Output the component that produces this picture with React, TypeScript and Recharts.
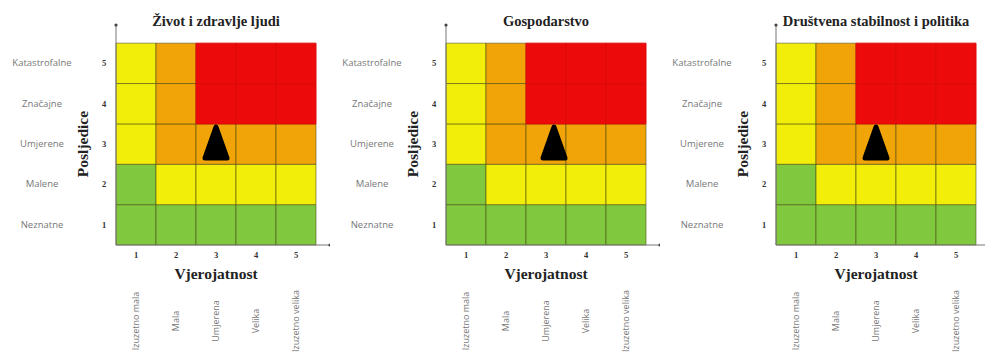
import {
  ScatterChart,
  Scatter,
  XAxis,
  YAxis,
  ReferenceArea,
  ReferenceDot,
} from 'recharts';

const PANEL_TITLES = ['Život i zdravlje ljudi', 'Gospodarstvo', 'Društvena stabilnost i politika'];
const LIKELIHOOD_TICKS = [1, 2, 3, 4, 5];
const LIKELIHOOD_LABELS = ['Izuzetno mala', 'Mala', 'Umjerena', 'Velika', 'Izuzetno velika'];
const CONSEQUENCE_TICKS = [1, 2, 3, 4, 5];
const CONSEQUENCE_LABELS = ['Neznatne', 'Malene', 'Umjerene', 'Značajne', 'Katastrofalne'];

// risk level per cell, rows = consequence 1..5, cols = likelihood 1..5
const RISK_GRID = [
  ['G', 'G', 'G', 'G', 'G'],
  ['G', 'Y', 'Y', 'Y', 'Y'],
  ['Y', 'O', 'O', 'O', 'O'],
  ['Y', 'O', 'R', 'R', 'R'],
  ['Y', 'O', 'R', 'R', 'R'],
];

// assessed risk position (likelihood, consequence) per panel
const RISK_MARKERS = [
  [{ x: 3, y: 3 }],
  [{ x: 3.2, y: 3 }],
  [{ x: 3, y: 3 }],
];

const LEVEL_COLORS: Record<string, string> = {
  G: '#80c83e', // green
  Y: '#f2ee0a', // yellow
  O: '#f0a408', // orange
  R: '#ec0a0a', // red
};

const PANEL_LEFT = [0, 330, 660];
const PANEL_WIDTH = [330, 330, 325];
const CHART_HEIGHT = 356;
const Y_AXIS_W = 116;
const X_AXIS_H = 111;
const TOP = 25;
// axes run a little past the grid, ending in a small arrow dot
const X_MAX = 5.85;
const Y_MAX = 5.95;

const serif = '"Liberation Serif", "Times New Roman", serif';
const sans = '"Open Sans", "Noto Sans", sans-serif';

const cells = RISK_GRID.flatMap((row, r) =>
  row.map((level, c) => ({ x: c + 1, y: r + 1, level })),
);

function YTick({ y, payload }: any) {
  const v = payload.value as number;
  return (
    <g>
      <text x={42} y={y} dy={3} textAnchor="middle" fontFamily={sans} fontSize={9.5} fill="#777">
        {CONSEQUENCE_LABELS[v - 1]}
      </text>
      <text x={104} y={y} dy={3} textAnchor="middle" fontFamily={serif} fontWeight="bold" fontSize={8.5} fill="#333">
        {v}
      </text>
    </g>
  );
}

function XTick({ x, payload }: any) {
  const v = payload.value as number;
  return (
    <g>
      <text x={x} y={258} textAnchor="middle" fontFamily={serif} fontWeight="bold" fontSize={8.5} fill="#333">
        {v}
      </text>
      <text
        x={x}
        y={321}
        dy={3}
        textAnchor="middle"
        transform={`rotate(-90 ${x} 321)`}
        fontFamily={sans}
        fontSize={9}
        fill="#777"
      >
        {LIKELIHOOD_LABELS[v - 1]}
      </text>
    </g>
  );
}

function Marker({ cx, cy }: any) {
  return (
    <path
      d={`M${cx},${cy - 17} L${cx + 11},${cy + 14} L${cx - 11},${cy + 14} Z`}
      fill="#000"
      stroke="#000"
      strokeWidth={5}
      strokeLinejoin="round"
    />
  );
}

function RiskPanel({ index }: { index: number }) {
  const width = PANEL_WIDTH[index];
  return (
    <div style={{ position: 'absolute', left: PANEL_LEFT[index], top: 0, width, height: CHART_HEIGHT }}>
      <div
        style={{
          position: 'absolute',
          left: Y_AXIS_W - 20,
          width: 240,
          top: 13,
          textAlign: 'center',
          fontFamily: serif,
          fontWeight: 'bold',
          fontSize: 14.5,
          lineHeight: '16px',
          color: '#222',
          whiteSpace: 'nowrap',
        }}
      >
        {PANEL_TITLES[index]}
      </div>
      <ScatterChart
        width={width}
        height={CHART_HEIGHT}
        margin={{ top: TOP, right: width - 330, bottom: 0, left: 0 }}
      >
        <XAxis
          type="number"
          dataKey="x"
          domain={[0.5, X_MAX]}
          ticks={LIKELIHOOD_TICKS}
          height={X_AXIS_H}
          tickLine={false}
          axisLine={{ stroke: '#777' }}
          tick={<XTick />}
          interval={0}
          label={{
            content: () => (
              <text x={216} y={279} textAnchor="middle" fontFamily={serif} fontWeight="bold" fontSize={15.5} fill="#222">
                Vjerojatnost
              </text>
            ),
          }}
        />
        <YAxis
          type="number"
          dataKey="y"
          domain={[0.5, Y_MAX]}
          ticks={CONSEQUENCE_TICKS}
          width={Y_AXIS_W}
          tickLine={false}
          axisLine={{ stroke: '#777' }}
          tick={<YTick />}
          interval={0}
          label={{
            content: () => (
              <text
                x={83}
                y={144}
                dy={5}
                textAnchor="middle"
                transform="rotate(-90 83 144)"
                fontFamily={serif}
                fontWeight="bold"
                fontSize={15.5}
                fill="#222"
              >
                Posljedice
              </text>
            ),
          }}
        />
        {cells.map((c) => (
          <ReferenceArea
            key={`${c.x}-${c.y}`}
            x1={c.x - 0.5}
            x2={c.x + 0.5}
            y1={c.y - 0.5}
            y2={c.y + 0.5}
            fill={LEVEL_COLORS[c.level]}
            fillOpacity={1}
            stroke={c.level === 'R' ? '#dc0a0a' : 'rgba(70,70,20,0.55)'}
            strokeWidth={1}
          />
        ))}
        <ReferenceDot x={X_MAX} y={0.5} r={1.6} fill="#444" stroke="none" />
        <ReferenceDot x={0.5} y={Y_MAX} r={1.6} fill="#444" stroke="none" />
        <Scatter data={RISK_MARKERS[index]} shape={<Marker />} isAnimationActive={false} />
      </ScatterChart>
    </div>
  );
}

export default function App() {
  return (
    <div style={{ position: 'absolute', left: 0, top: 0, width: 985, height: 356, background: '#fff', overflow: 'hidden' }}>
      {PANEL_TITLES.map((_, i) => (
        <RiskPanel key={i} index={i} />
      ))}
    </div>
  );
}
